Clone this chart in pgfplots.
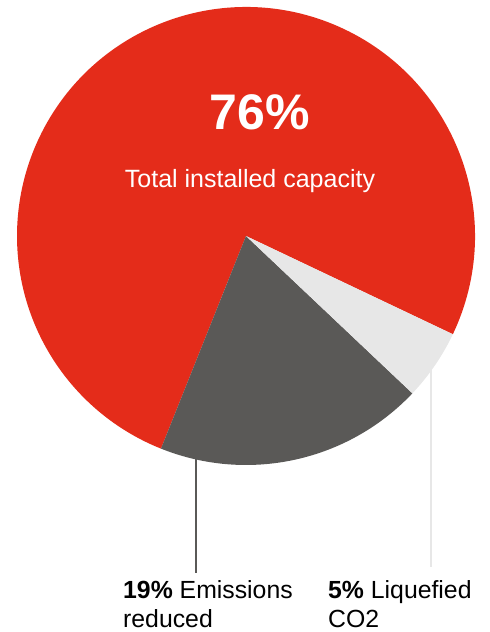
\documentclass[border=0pt]{standalone}
\usepackage{fontspec}
\setmainfont{Liberation Sans}
\usepackage{pgfplots}
\usepackage{pgfplotstable}
\pgfplotsset{compat=1.18}
\definecolor{pred}{HTML}{E42C1A}
\definecolor{pdark}{HTML}{5A5957}
\definecolor{plight}{HTML}{E7E7E7}

% share (percent) and slice colour
\pgfplotstableread{
share colour
76 pred
19 pdark
5 plight
}\piedata

\begin{document}
\begin{tikzpicture}
\begin{axis}[
  scale only axis,
  width=490bp, height=632bp,
  xmin=0, xmax=490, ymin=0, ymax=632,
  hide axis, clip=false,
]
\coordinate (bl) at (axis cs:0,0);
\coordinate (tr) at (axis cs:490,632);
% slices, counter-clockwise from the start angle
\def\startang{-25.4}
\pgfplotstablegetrowsof{\piedata}
\pgfmathtruncatemacro\lastrow{\pgfplotsretval-1}
\foreach \r in {0,...,\lastrow} {
  \pgfplotstablegetelem{\r}{share}\of\piedata \let\v\pgfplotsretval
  \pgfplotstablegetelem{\r}{colour}\of\piedata \let\c\pgfplotsretval
  \pgfmathsetmacro\endang{\startang+3.6*\v}
  \pgfmathsetmacro\px{246+229*cos(\startang)}
  \pgfmathsetmacro\py{396+229*sin(\startang)}
  \edef\temp{\noexpand\fill[\c] (axis cs:246,396) -- (axis cs:\px,\py)
    arc[start angle=\startang, end angle=\endang, radius=229bp] -- cycle;}
  \temp
  \xdef\startang{\endang}
}
% leader lines
\draw[pdark, line width=2.5bp] (axis cs:196,174) -- (axis cs:196,59);
\draw[plight, line width=2.5bp] (axis cs:431,262) -- (axis cs:431,65);
% labels
\node[anchor=base, text=white, font=\fontsize{50bp}{56bp}\selectfont\bfseries, inner sep=0pt]
  at (axis cs:260,502) {76\%};
\node[anchor=base, text=white, font=\fontsize{25bp}{28bp}\selectfont, inner sep=0pt]
  at (axis cs:250,444) {Total installed capacity};
\node[anchor=base west, font=\fontsize{24.8bp}{28bp}\selectfont, inner sep=0pt]
  at (axis cs:123,33) {\textbf{19\%} Emissions};
\node[anchor=base west, font=\fontsize{24.8bp}{28bp}\selectfont, inner sep=0pt]
  at (axis cs:123,5) {reduced};
\node[anchor=base west, font=\fontsize{24.8bp}{28bp}\selectfont, inner sep=0pt]
  at (axis cs:328,33) {\textbf{5\%} Liquefied};
\node[anchor=base west, font=\fontsize{24.8bp}{28bp}\selectfont, inner sep=0pt]
  at (axis cs:328,5) {CO2};
\end{axis}
\pgfresetboundingbox
\path (bl) rectangle (tr);
\end{tikzpicture}
\end{document}
